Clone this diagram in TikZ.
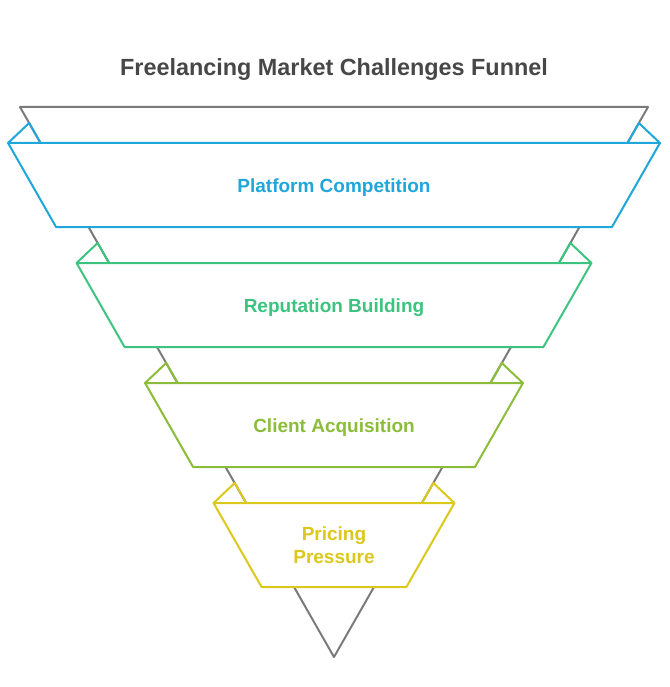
\documentclass[tikz,border=0pt]{standalone}
\usepackage{fontspec}
\setmainfont{Liberation Sans}
\definecolor{funnelgray}{HTML}{7A7A7A}
\definecolor{titlegray}{HTML}{474747}
\definecolor{cBlue}{HTML}{1FA6DA}
\definecolor{cGreen}{HTML}{3CC37F}
\definecolor{cOlive}{HTML}{8CBD3A}
\definecolor{cYellow}{HTML}{DCC71B}

\begin{document}
\begin{tikzpicture}[x=1pt,y=-1pt,line width=2pt,line join=round,
  band/.style={draw=#1,fill=white},
  flap/.style={draw=#1},
  lbl/.style={text=#1,font=\fontsize{19}{23}\selectfont\bfseries,align=center}]

  \useasboundingbox (0,0) rectangle (669,687);

  \node[text=titlegray,font=\fontsize{23.4}{28}\selectfont\bfseries,anchor=base] (title) at (334,76) {Freelancing Market Challenges Funnel};

  \draw[funnelgray] (20,107) -- (648,107) -- (334,657) -- cycle;

  \foreach \T/\col in {143/cBlue,263/cGreen,383/cOlive,503/cYellow} {
    \pgfmathsetmacro\gl{20+0.5709*(\T-107)}
    \pgfmathsetmacro\gr{668-\gl}
    \draw[band=\col] (\gl-32.5,\T) -- (\gr+32.5,\T) -- (\gr-15.5,\T+84) -- (\gl+15.5,\T+84) -- cycle;
    \draw[flap=\col] (\gl-32.5,\T) -- (\gl-11.4,\T-20) -- (\gl,\T);
    \draw[flap=\col] (\gr+32.5,\T) -- (\gr+11.4,\T-20) -- (\gr,\T);
  }

  \node[lbl=cBlue,anchor=base] (platform) at (334,192.5) {Platform Competition};
  \node[lbl=cGreen,anchor=base] (reputation) at (334,312.5) {Reputation Building};
  \node[lbl=cOlive,anchor=base] (client) at (334,432.5) {Client Acquisition};
  \node[lbl=cYellow] (pricing) at (334,545) {Pricing\\Pressure};

\end{tikzpicture}
\end{document}
